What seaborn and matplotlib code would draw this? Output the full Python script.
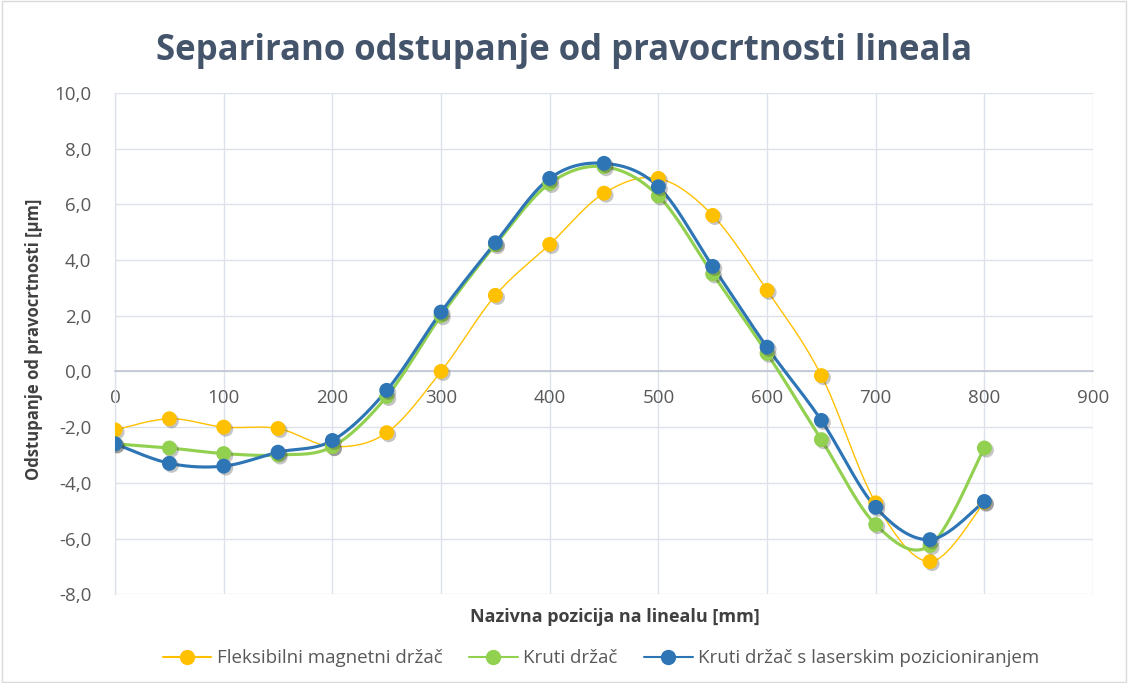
import numpy as np
import pandas as pd
import matplotlib
matplotlib.use("Agg")
import matplotlib.pyplot as plt
import matplotlib.patheffects as pe
from matplotlib.lines import Line2D
from matplotlib.patches import Rectangle
from matplotlib.ticker import FuncFormatter, MultipleLocator
import seaborn as sns

# Measurement positions along the straightedge [mm]
positions = [0, 50, 100, 150, 200, 250, 300, 350, 400, 450, 500, 550, 600, 650, 700, 750, 800]

# Separated straightness deviation [µm] per holder type
fleksibilni = [-2.1, -1.7, -2.0, -2.05, -2.7, -2.2, 0.0, 2.73, 4.56, 6.4, 6.93, 5.6, 2.91, -0.15, -4.72, -6.83, -4.7]
kruti = [-2.6, -2.75, -2.95, -3.0, -2.7, -0.9, 2.0, 4.55, 6.75, 7.35, 6.3, 3.5, 0.65, -2.45, -5.5, -6.25, -2.75]
kruti_laser = [-2.6, -3.3, -3.4, -2.9, -2.48, -0.68, 2.13, 4.62, 6.93, 7.47, 6.63, 3.77, 0.87, -1.76, -4.88, -6.04, -4.67]

series_names = ["Fleksibilni magnetni držač", "Kruti držač", "Kruti držač s laserskim pozicioniranjem"]
series_values = [fleksibilni, kruti, kruti_laser]
colors = ["#FFC000", "#92D050", "#2E75B6"]
line_widths = [1.0, 2.25, 2.25]

title = "Separirano odstupanje od pravocrtnosti lineala"
x_label = "Nazivna pozicija na linealu [mm]"
y_label = "Odstupanje od pravocrtnosti [µm]"


def smooth_curve(xs, ys, n=30):
    """Cubic Bezier smoothing through every point (spreadsheet-style smoothed line)."""
    xs = np.asarray(xs, float)
    ys = np.asarray(ys, float)
    px = np.concatenate([[xs[0]], xs, [xs[-1]]])
    py = np.concatenate([[ys[0]], ys, [ys[-1]]])
    out_x, out_y = [], []
    t = np.linspace(0, 1, n)
    for i in range(1, len(px) - 2):
        p0 = np.array([px[i], py[i]])
        p3 = np.array([px[i + 1], py[i + 1]])
        c1 = p0 + (np.array([px[i + 1], py[i + 1]]) - np.array([px[i - 1], py[i - 1]])) / 6
        c2 = p3 - (np.array([px[i + 2], py[i + 2]]) - np.array([px[i], py[i]])) / 6
        b = ((1 - t) ** 3)[:, None] * p0 + (3 * (1 - t) ** 2 * t)[:, None] * c1 \
            + (3 * (1 - t) * t ** 2)[:, None] * c2 + (t ** 3)[:, None] * p3
        if i > 1:
            b = b[1:]
        out_x.extend(b[:, 0])
        out_y.extend(b[:, 1])
    return np.array(out_x), np.array(out_y)


sns.set_theme(style="white")
plt.rcParams["font.family"] = ["Open Sans", "DejaVu Sans"]

fig = plt.figure(figsize=(11.28, 6.83), dpi=100)
ax = fig.add_axes([0.102, 0.130, 0.867, 0.734])

text_col = "#595959"
grid_col = "#DCE1EA"

points = pd.DataFrame({
    "x": np.tile(positions, 3),
    "y": np.concatenate(series_values),
    "serija": np.repeat(series_names, len(positions)),
})

for name, vals, col, lw in zip(series_names, series_values, colors, line_widths):
    sx, sy = smooth_curve(positions, vals)
    curve = pd.DataFrame({"x": sx, "y": sy})
    sns.lineplot(data=curve, x="x", y="y", sort=False, estimator=None, color=col,
                 linewidth=lw, ax=ax, zorder=3)
    sub = points[points["serija"] == name]
    sns.scatterplot(data=sub, x="x", y="y", color=col, s=115, edgecolor=col,
                    linewidth=0, ax=ax, zorder=4,
                    path_effects=[pe.SimplePatchShadow(offset=(1.5, -1.5), alpha=0.3,
                                                       shadow_rgbFace="#404040"), pe.Normal()])

ax.set_xlim(0, 900)
ax.set_ylim(-8, 10)
ax.xaxis.set_major_locator(MultipleLocator(100))
ax.yaxis.set_major_locator(MultipleLocator(2))
ax.yaxis.set_major_formatter(FuncFormatter(lambda v, p: f"{v:.1f}".replace(".", ",")))
ax.xaxis.set_major_formatter(FuncFormatter(lambda v, p: f"{int(round(v))}"))

ax.grid(True, color=grid_col, linewidth=1.0, zorder=0)
ax.set_axisbelow(True)
for s in ["top", "right"]:
    ax.spines[s].set_visible(False)
ax.spines["left"].set_color(grid_col)
ax.spines["left"].set_linewidth(1.0)
ax.spines["bottom"].set_position(("data", 0))
ax.spines["bottom"].set_color("#BFC6D3")
ax.spines["bottom"].set_linewidth(1.2)
ax.tick_params(axis="both", length=0, labelsize=13.5, labelcolor=text_col)
ax.tick_params(axis="x", pad=13)
ax.tick_params(axis="y", pad=17)

ax.set_xlabel("")
ax.set_ylabel("")
fig.text(0.545, 0.097, x_label, ha="center", va="center", fontsize=13,
         fontweight="bold", color="#404040")
fig.text(0.030, 0.503, y_label, ha="center", va="center", rotation=90, fontsize=12,
         fontweight="bold", color="#404040")
fig.text(0.5, 0.925, title, ha="center", va="center", fontsize=25,
         fontweight="bold", color="#44546A")

handles = [Line2D([0], [0], color=c, lw=1.5, marker="o", markersize=10,
                  markerfacecolor=c, markeredgecolor=c) for c in colors]
fig.legend(handles, series_names, loc="center", bbox_to_anchor=(0.533, 0.036), ncol=3,
           frameon=False, fontsize=13.5, labelcolor=text_col, handlelength=2.6,
           columnspacing=1.4, handletextpad=0.3)

fig.patches.append(Rectangle((0.002, 0.002), 0.996, 0.996, transform=fig.transFigure,
                             fill=False, edgecolor="#D9D9D9", linewidth=1.0))

fig.savefig("out.png", dpi=100, facecolor="white")
